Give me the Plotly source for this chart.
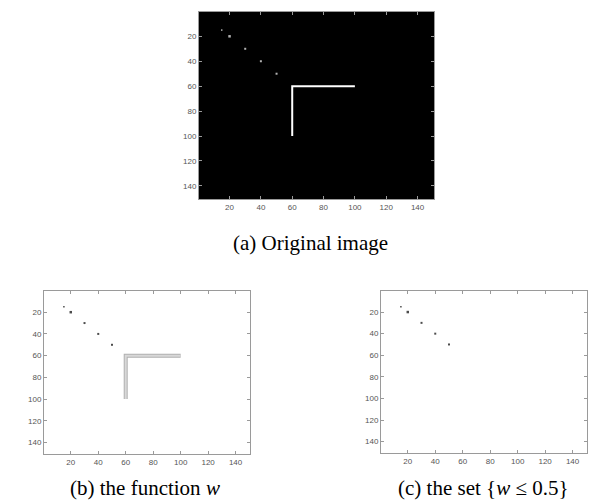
import plotly.graph_objects as go

# ---- data ----
dot_x = [15, 20, 30, 40, 50]
dot_y = [15, 20, 30, 40, 50]
l_x = [100, 60, 60]
l_y = [60, 60, 100]
tick_vals = [20, 40, 60, 80, 100, 120, 140]
captions = ["(a) Original image", "(b) the function <i>w</i>", "(c) the set {<i>w</i> \u2264 0.5}"]

W, H = 612, 500

def dom_x(a, b):
    return [a / W, b / W]

def dom_y(top, bottom):
    return [1 - bottom / H, 1 - top / H]

dot_sizes = [1.5, 2.5, 2, 2, 2]

fig = go.Figure()

# panel a (black image)
fig.add_trace(go.Scatter(x=l_x, y=l_y, mode="lines", line=dict(color="white", width=2),
                         xaxis="x", yaxis="y", showlegend=False, hoverinfo="skip"))
fig.add_trace(go.Scatter(x=dot_x, y=dot_y, mode="markers",
                         marker=dict(color="white", size=dot_sizes, symbol="square", line=dict(width=0)),
                         xaxis="x", yaxis="y", showlegend=False))

# panel b (function w)
fig.add_trace(go.Scatter(x=l_x, y=l_y, mode="lines", line=dict(color="#b0b0b0", width=4),
                         xaxis="x2", yaxis="y2", showlegend=False, hoverinfo="skip"))
fig.add_trace(go.Scatter(x=l_x, y=l_y, mode="lines", line=dict(color="#d8d8d8", width=2),
                         xaxis="x2", yaxis="y2", showlegend=False, hoverinfo="skip"))
fig.add_trace(go.Scatter(x=dot_x, y=dot_y, mode="markers",
                         marker=dict(color="black", size=dot_sizes, symbol="square", line=dict(width=0)),
                         xaxis="x2", yaxis="y2", showlegend=False))

# panel c (set w <= 0.5)
fig.add_trace(go.Scatter(x=dot_x, y=dot_y, mode="markers",
                         marker=dict(color="black", size=dot_sizes, symbol="square", line=dict(width=0)),
                         xaxis="x3", yaxis="y3", showlegend=False))

tick_font = dict(family="Liberation Sans, Arial", size=8, color="#555555")

def xa(domain, anchor, linecolor):
    return dict(domain=domain, anchor=anchor, range=[0.5, 150.5], tickvals=tick_vals,
                showgrid=False, zeroline=False, showline=True, mirror="ticks",
                linecolor=linecolor, linewidth=1, ticks="inside", ticklen=3,
                tickcolor=linecolor, tickfont=tick_font, fixedrange=True)

def ya(domain, anchor, linecolor):
    return dict(domain=domain, anchor=anchor, range=[150.5, 0.5], tickvals=tick_vals,
                showgrid=False, zeroline=False, showline=True, mirror="ticks",
                linecolor=linecolor, linewidth=1, ticks="inside", ticklen=3,
                tickcolor=linecolor, tickfont=tick_font, fixedrange=True)

fig.update_layout(
    width=W, height=H,
    margin=dict(l=0, r=0, t=0, b=0),
    paper_bgcolor="white", plot_bgcolor="white",
    xaxis=xa(dom_x(191, 426), "y", "#9a9a9a"),
    yaxis=ya(dom_y(4, 191), "x", "#9a9a9a"),
    xaxis2=xa(dom_x(36, 242), "y2", "#9a9a9a"),
    yaxis2=ya(dom_y(283, 446), "x2", "#9a9a9a"),
    xaxis3=xa(dom_x(373, 579), "y3", "#9a9a9a"),
    yaxis3=ya(dom_y(283, 445), "x3", "#9a9a9a"),
    shapes=[dict(type="rect", xref="x domain", yref="y domain", x0=0, x1=1, y0=0, y1=1,
                 fillcolor="black", line=dict(width=0), layer="below")],
)

cap_font = dict(family="Liberation Serif, Times New Roman, serif", size=21, color="black")
cap_pos = [(302, 235), (137, 480), (475, 480)]
for text, (cx, cy) in zip(captions, cap_pos):
    fig.add_annotation(text=text, x=cx / W, y=1 - cy / H, xref="paper", yref="paper",
                       showarrow=False, font=cap_font, xanchor="center", yanchor="middle")

fig.write_html("out.html")
